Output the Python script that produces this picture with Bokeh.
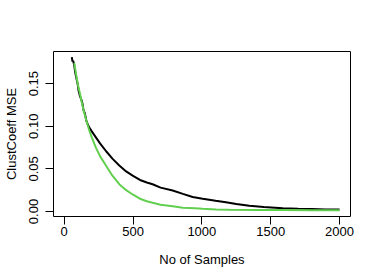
from bokeh.plotting import figure
from bokeh.models import Range1d, FixedTicker, NumeralTickFormatter
from bokeh.embed import file_html
from bokeh.resources import INLINE

x_black = [55, 60, 65, 73, 80, 90, 97, 105, 115, 125, 133, 140, 150, 160, 169, 180, 200, 230, 260, 303,
           350, 400, 450, 497, 550, 600, 642, 700, 788, 862, 933, 1006, 1100, 1175, 1250, 1345, 1450,
           1588, 1700, 1800, 1900, 2000]
y_black = [0.181, 0.176, 0.177, 0.171, 0.163, 0.155, 0.150, 0.141, 0.135, 0.131, 0.126, 0.119, 0.115,
           0.107, 0.103, 0.099, 0.094, 0.087, 0.080, 0.071, 0.062, 0.054, 0.047, 0.042, 0.037, 0.034,
           0.032, 0.028, 0.0246, 0.0207, 0.017, 0.0149, 0.0125, 0.0109, 0.0088, 0.0068, 0.0052, 0.0039,
           0.0033, 0.0029, 0.0025, 0.0023]

x_green = [73, 80, 90, 100, 109, 120, 130, 145, 160, 182, 200, 230, 260, 303, 350, 400, 450, 497, 550,
           600, 642, 700, 788, 862, 950, 1006, 1103, 1200, 1400, 1600, 1800, 2000]
y_green = [0.174, 0.167, 0.157, 0.148, 0.142, 0.134, 0.126, 0.116, 0.107, 0.095, 0.087, 0.075, 0.065,
           0.054, 0.042, 0.032, 0.025, 0.020, 0.015, 0.012, 0.0102, 0.008, 0.0062, 0.0045, 0.0037,
           0.0032, 0.0025, 0.0021, 0.0018, 0.0017, 0.0016, 0.0016]

x_ticks = [0, 500, 1000, 1500, 2000]
y_ticks = [0.0, 0.05, 0.10, 0.15]

FONT = "Liberation Sans"

p = figure(frame_width=297, frame_height=165, output_backend="svg", toolbar_location=None,
           x_range=Range1d(-78, 2080), y_range=Range1d(-0.00585, 0.1877),
           min_border_left=51, min_border_right=25, min_border_top=51, min_border_bottom=63)
p.background_fill_color = "white"
p.border_fill_color = "white"
p.outline_line_color = "black"
p.outline_line_width = 1
p.grid.visible = False

p.line(x_black, y_black, line_color="black", line_width=2)
p.line(x_green, y_green, line_color="#61D04F", line_width=2)

for ax in (p.xaxis[0], p.yaxis[0]):
    ax.axis_line_color = None
    ax.major_tick_line_color = "black"
    ax.major_tick_out = 8
    ax.major_tick_in = 0
    ax.minor_tick_line_color = None
    ax.major_label_text_font = FONT
    ax.major_label_text_font_size = "13px"
    ax.major_label_text_color = "black"
    ax.axis_label_text_font = FONT
    ax.axis_label_text_font_size = "13px"
    ax.axis_label_text_font_style = "normal"
    ax.axis_label_text_color = "black"

p.xaxis.ticker = FixedTicker(ticks=x_ticks)
p.yaxis.ticker = FixedTicker(ticks=y_ticks)
p.yaxis.formatter = NumeralTickFormatter(format="0.00")
p.yaxis.major_label_orientation = "vertical"
p.xaxis.axis_label = "No of Samples"
p.yaxis.axis_label = "ClustCoeff MSE"
p.xaxis.major_label_standoff = 2
p.xaxis.axis_label_standoff = 13
p.yaxis.major_label_standoff = 7
p.yaxis.axis_label_standoff = 8

open("out.html", "w").write(file_html(p, INLINE))
